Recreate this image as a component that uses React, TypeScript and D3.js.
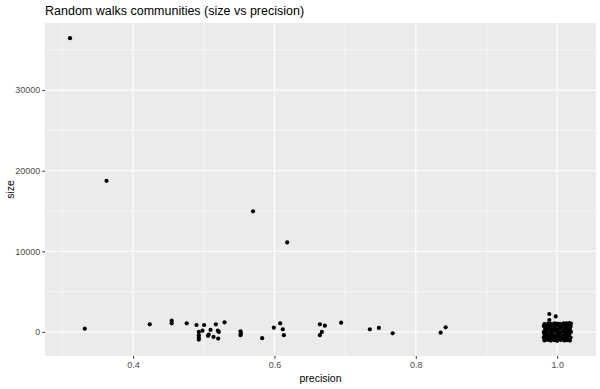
import React, { useEffect, useRef } from 'react';
import * as d3 from 'd3';

// scattered communities (precision, size)
const precision = [
  0.3108, 0.3624, 0.5697, 0.6180, 0.3316, 0.4236, 0.4546, 0.4546, 0.4759, 0.4897,
  0.4930, 0.4930, 0.4930, 0.4930, 0.4982, 0.5005, 0.5060, 0.5070, 0.5096, 0.5138,
  0.5171, 0.5199, 0.5213, 0.5204, 0.5294, 0.5520, 0.5520, 0.5525, 0.5826, 0.5991,
  0.6081, 0.6118, 0.6133, 0.6643, 0.6713, 0.6671, 0.6643, 0.6944, 0.7350, 0.7478,
  0.7672, 0.8351, 0.8422, 0.9889, 0.9979, 0.9889,
];
const size = [
  36444, 18740, 14955, 11096, 408, 940, 1390, 1060, 1060, 860,
  0, -410, -700, -950, 160, 860, -490, -330, 250, -620,
  940, 160, 0, -830, 1190, 80, -410, -170, -780, 530,
  1060, 320, -410, 940, 780, 0, -410, 1150, 320, 490,
  -170, -90, 570, 2220, 1920, 1480,
];

// dense block of communities near precision 1.0
const clusterPrecision = [
  0.982, 0.987, 0.991, 0.996, 1.000, 1.004, 1.009, 1.013, 1.017, 1.0195,
  0.981, 0.985, 0.989, 0.994, 0.998, 1.003, 1.007, 1.011, 1.015, 1.019,
  0.983, 0.987, 0.992, 0.996, 1.001, 1.005, 1.010, 1.014, 1.018,
  0.981, 0.985, 0.990, 0.994, 0.999, 1.003, 1.008, 1.012, 1.016, 1.0195,
  0.982, 0.986, 0.991, 0.995, 1.000, 1.004, 1.009, 1.013, 1.017,
  0.981, 0.985, 0.989, 0.993, 0.998, 1.002, 1.006, 1.011, 1.015, 1.019,
  0.982, 0.987, 0.991, 0.996, 1.000, 1.005, 1.010, 1.014, 1.018,
];
const clusterSize = [
  980, 1040, 1010, 1060, 1020, 990, 1050, 1070, 1080, 1030,
  720, 650, 700, 680, 740, 660, 710, 690, 730, 670,
  340, 380, 310, 360, 330, 390, 320, 370, 350,
  -20, 30, -10, 40, 10, -40, 20, -30, 50, 0,
  -330, -370, -340, -390, -320, -360, -380, -350, -310,
  -690, -720, -660, -740, -700, -680, -730, -710, -670, -700,
  -1050, -1000, -1080, -1020, -1110, -990, -1060, -1030, -1070,
];

const xTicks = [0.4, 0.6, 0.8, 1.0];
const xMinor = [0.3, 0.5, 0.7, 0.9];
const yTicks = [0, 10000, 20000, 30000];
const yMinor = [5000, 15000, 25000, 35000];

const title = 'Random walks communities (size vs precision)';
const xLabel = 'precision';
const yLabel = 'size';

const W = 600, H = 389;
const m = { left: 45, right: 4, top: 23, bottom: 33 };
const font = '"Liberation Sans", Arial, sans-serif';

function expand([a, b]: number[]) {
  const d = (b - a) * 0.05;
  return [a - d, b + d];
}

export default function App() {
  const ref = useRef<SVGSVGElement>(null);

  useEffect(() => {
    const svg = d3.select(ref.current);
    svg.selectAll('*').remove();

    const pts = precision.map((p, i) => [p, size[i]])
      .concat(clusterPrecision.map((p, i) => [p, clusterSize[i]]));

    const x = d3.scaleLinear()
      .domain(expand(d3.extent(pts, d => d[0]) as number[]))
      .range([m.left, W - m.right]);
    const y = d3.scaleLinear()
      .domain(expand(d3.extent(pts, d => d[1]) as number[]))
      .range([H - m.bottom, m.top]);

    const pw = W - m.right - m.left, ph = H - m.bottom - m.top;

    svg.append('rect')
      .attr('x', m.left).attr('y', m.top)
      .attr('width', pw).attr('height', ph)
      .attr('fill', '#EBEBEB');

    const grid = svg.append('g').attr('stroke', '#fff').attr('fill', 'none');
    grid.selectAll('line.xm').data(xMinor).enter().append('line')
      .attr('x1', d => x(d)).attr('x2', d => x(d))
      .attr('y1', m.top).attr('y2', m.top + ph)
      .attr('stroke-width', 0.55);
    grid.selectAll('line.ym').data(yMinor.filter(d => y(d) > m.top)).enter().append('line')
      .attr('y1', d => y(d)).attr('y2', d => y(d))
      .attr('x1', m.left).attr('x2', m.left + pw)
      .attr('stroke-width', 0.55);
    grid.selectAll('line.xM').data(xTicks).enter().append('line')
      .attr('x1', d => x(d)).attr('x2', d => x(d))
      .attr('y1', m.top).attr('y2', m.top + ph)
      .attr('stroke-width', 1.1);
    grid.selectAll('line.yM').data(yTicks).enter().append('line')
      .attr('y1', d => y(d)).attr('y2', d => y(d))
      .attr('x1', m.left).attr('x2', m.left + pw)
      .attr('stroke-width', 1.1);

    svg.append('g').selectAll('circle')
      .data(pts).enter().append('circle')
      .attr('cx', d => x(d[0]))
      .attr('cy', d => y(d[1]))
      .attr('r', 2.1)
      .attr('fill', '#000');

    // axes
    const xAxis = d3.axisBottom(x).tickValues(xTicks).tickSize(2.75).tickPadding(3)
      .tickFormat(d3.format('.1f'));
    const gx = svg.append('g')
      .attr('transform', `translate(0,${m.top + ph})`)
      .call(xAxis);
    const yAxis = d3.axisLeft(y).tickValues(yTicks).tickSize(2.75).tickPadding(2)
      .tickFormat(d3.format('d'));
    const gy = svg.append('g')
      .attr('transform', `translate(${m.left},0)`)
      .call(yAxis);
    [gx, gy].forEach(g => {
      g.select('.domain').remove();
      g.selectAll('line').attr('stroke', '#333333');
      g.selectAll('text')
        .attr('fill', '#4D4D4D')
        .style('font-family', font)
        .style('font-size', '9px');
    });

    svg.append('text')
      .attr('x', m.left).attr('y', 15)
      .style('font-family', font).style('font-size', '12.5px')
      .attr('fill', '#000')
      .text(title);

    svg.append('text')
      .attr('x', m.left + pw / 2).attr('y', 382)
      .attr('text-anchor', 'middle')
      .style('font-family', font).style('font-size', '10.5px')
      .text(xLabel);

    svg.append('text')
      .attr('transform', `translate(14,${m.top + ph / 2}) rotate(-90)`)
      .attr('text-anchor', 'middle')
      .style('font-family', font).style('font-size', '10.5px')
      .text(yLabel);
  }, []);

  return (
    <svg ref={ref} width={W} height={H}
      style={{ position: 'absolute', left: 0, top: 0, background: '#fff' }} />
  );
}
